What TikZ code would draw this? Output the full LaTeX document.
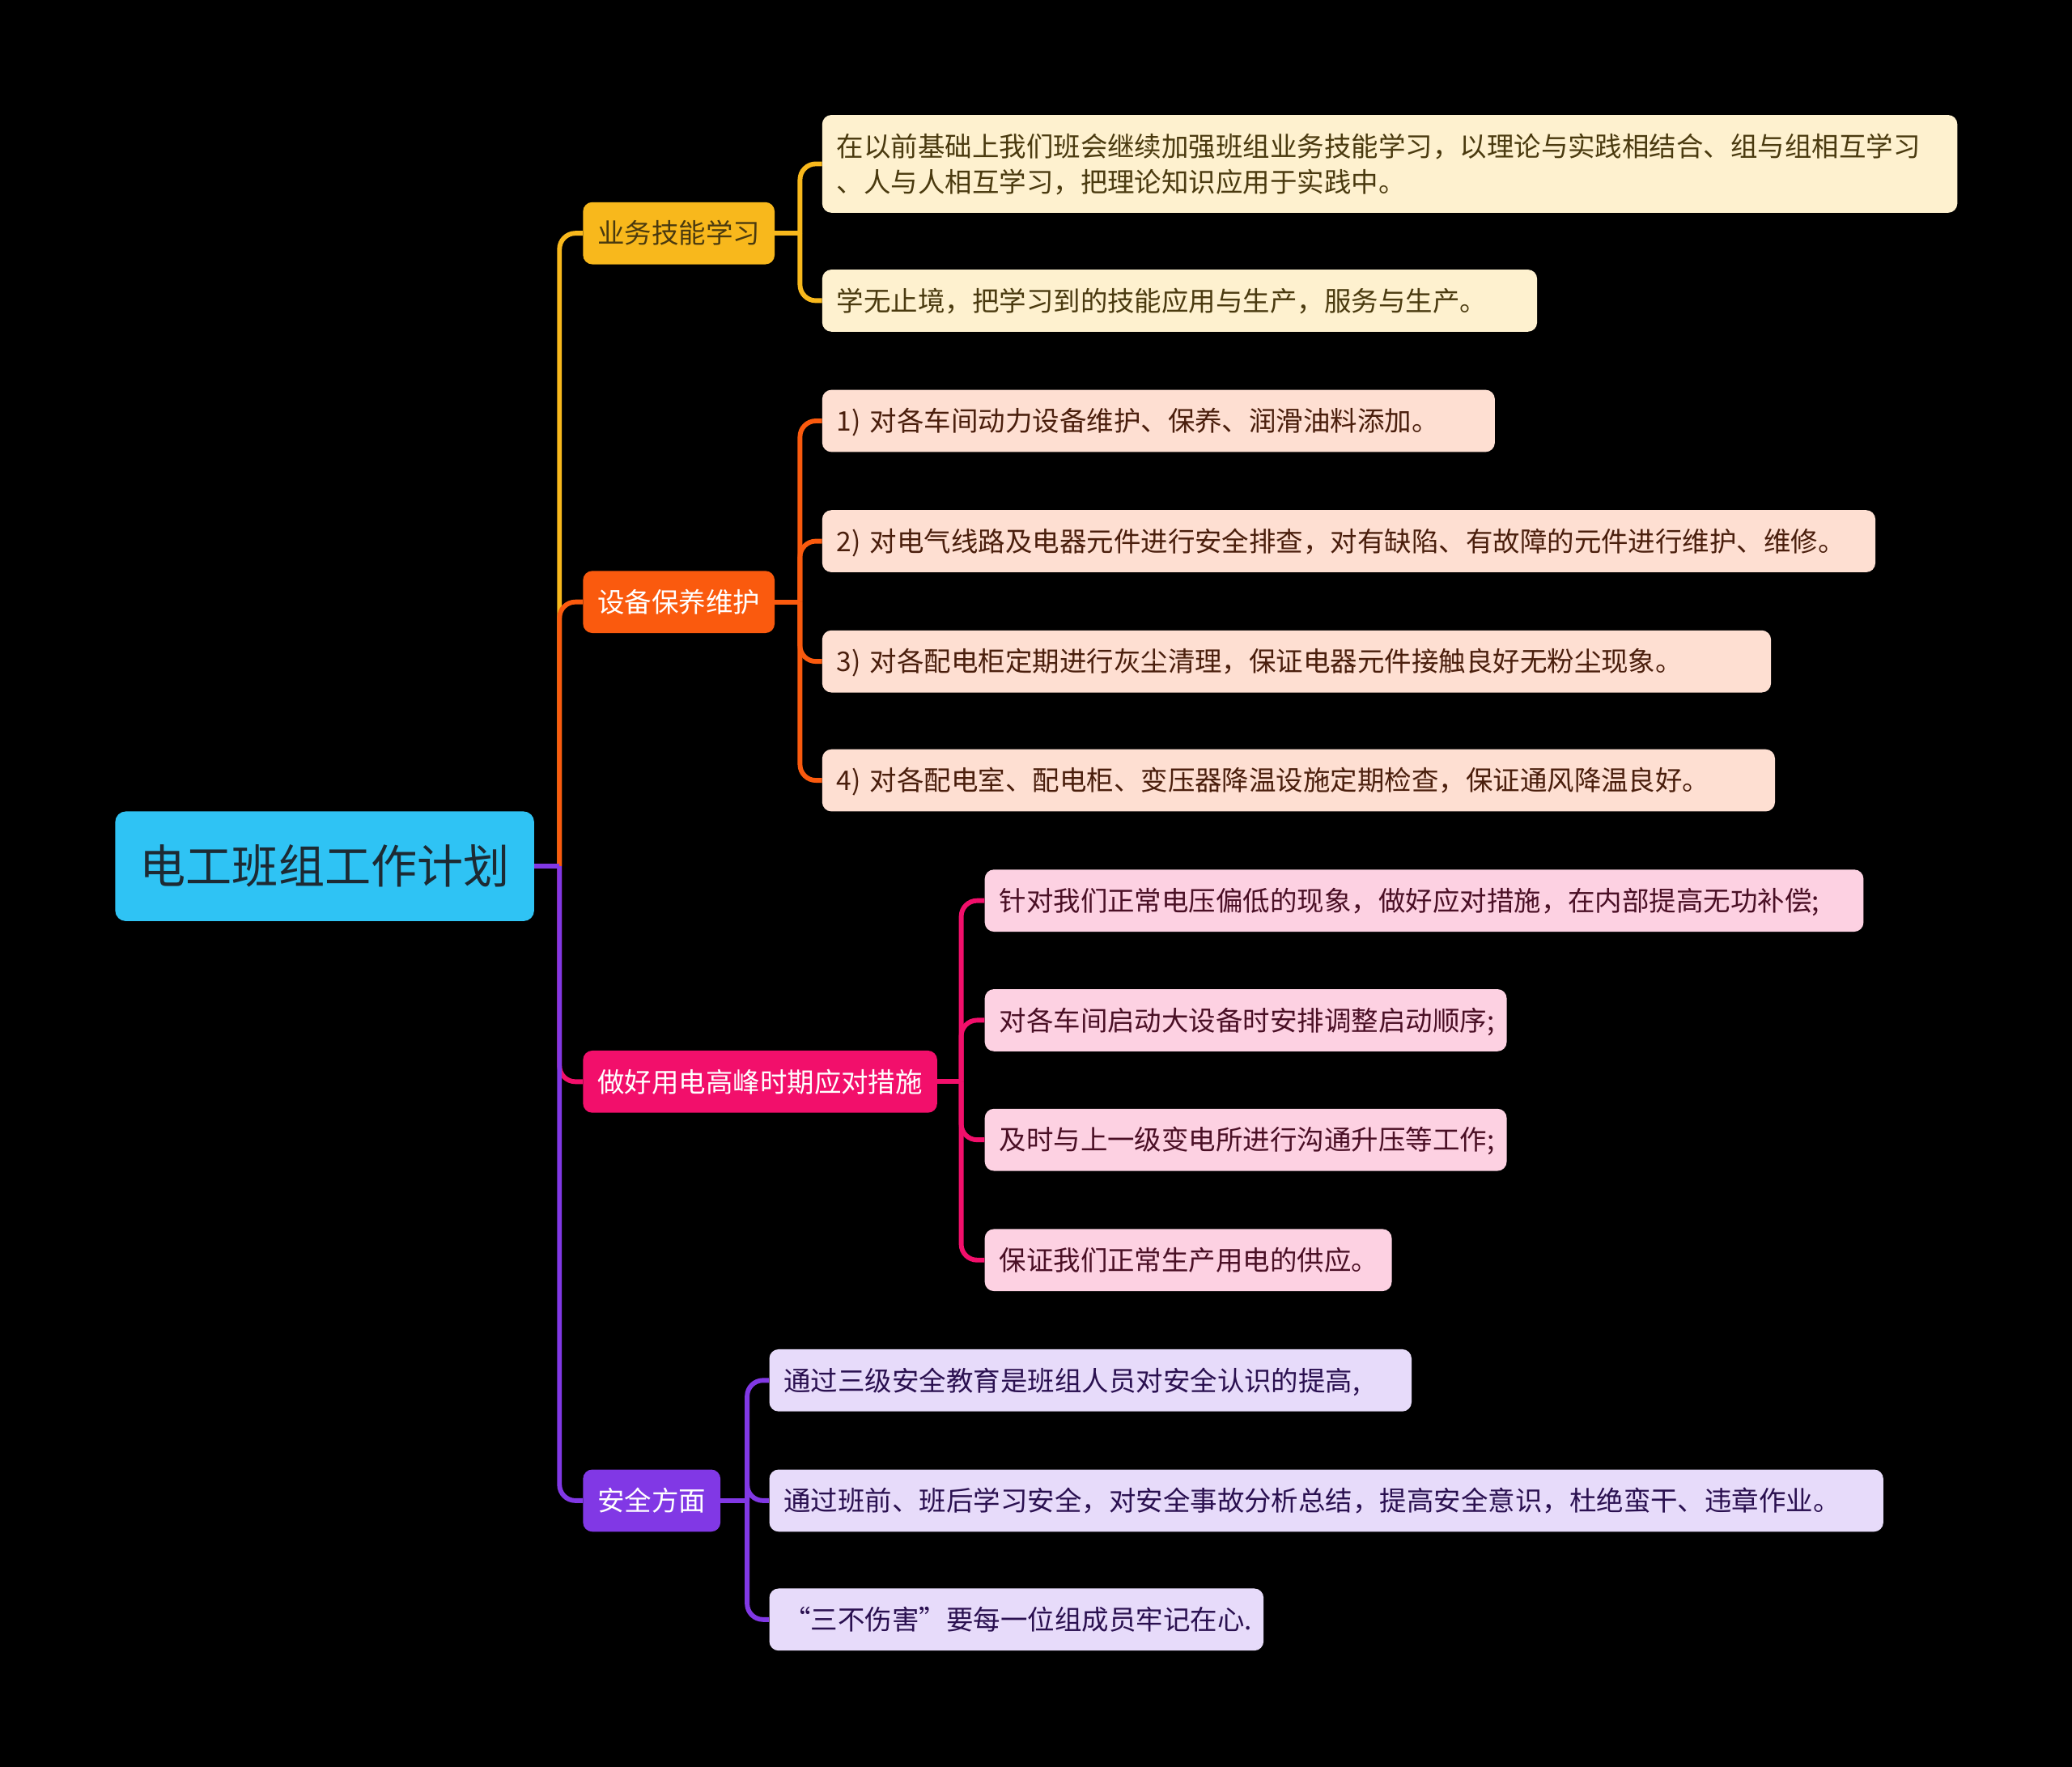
\documentclass[tikz,border=0pt]{standalone}
\usepackage{fontspec}
\setmainfont{Noto Sans CJK SC}
\usepackage{tikz}
\usetikzlibrary{calc}
\usepackage{xcolor}
\definecolor{PlanRoot}{HTML}{2FC3F4}
\definecolor{PlanRootText}{HTML}{1D2A33}
\definecolor{PlanYellow}{HTML}{F8B81C}
\definecolor{PlanYellowLight}{HTML}{FEF1CF}
\definecolor{PlanYellowText}{HTML}{4A3A0F}
\definecolor{PlanOrange}{HTML}{FA5A0E}
\definecolor{PlanOrangeLight}{HTML}{FEDFD2}
\definecolor{PlanOrangeText}{HTML}{4A1E0C}
\definecolor{PlanPink}{HTML}{F20F6B}
\definecolor{PlanPinkLight}{HTML}{FDD1E2}
\definecolor{PlanPinkText}{HTML}{4A0F25}
\definecolor{PlanPurple}{HTML}{8138E5}
\definecolor{PlanPurpleLight}{HTML}{E7DBFA}
\definecolor{PlanPurpleText}{HTML}{2A1050}

\begin{document}
\begin{tikzpicture}[
  x=1pt,y=-1pt,font=\fontsize{20.5}{27}\selectfont,
  link/.style={line width=3.6pt,rounded corners=12pt},
  root/.style={fill=PlanRoot,text=PlanRootText,rounded corners=8pt,
    minimum height=83pt,inner xsep=18.5pt,inner ysep=0pt,anchor=west,
    text height=28.6pt,text depth=2pt,font=\fontsize{35}{40}\selectfont},
  topic/.style={rounded corners=7pt,minimum height=47pt,inner xsep=11pt,
    inner ysep=0pt,anchor=west,text height=17.6pt,text depth=2pt},
  leaf/.style={rounded corners=7pt,minimum height=47pt,inner xsep=11pt,
    inner ysep=0pt,anchor=west,align=left,text width=#1,
    text height=17.6pt,text depth=2pt}
]

% black canvas, same proportions as the mind map
\fill[black] (0,0) rectangle (1568,1337);
\useasboundingbox (0,0) rectangle (1568,1337);

\node[root] (plan) at (87,655.5) {电工班组工作计划};

\node[topic,fill=PlanYellow,text=PlanYellowText] (study) at (441,176.5) {业务技能学习};
\node[topic,fill=PlanOrange,text=white] (equip) at (441,455.5) {设备保养维护};
\node[topic,fill=PlanPink,text=white] (peak) at (441,818.5) {做好用电高峰时期应对措施};
\node[topic,fill=PlanPurple,text=white] (safety) at (441,1135.5) {安全方面};

\node[leaf=837pt,fill=PlanYellowLight,text=PlanYellowText,minimum height=74pt,
  text depth=29pt]
  (study1) at (622,124)
  {在以前基础上我们班会继续加强班组业务技能学习，以理论与实践相结合、组与组相互学习\\
   、人与人相互学习，把理论知识应用于实践中。};
\node[leaf=519pt,fill=PlanYellowLight,text=PlanYellowText] (study2) at (622,227.5)
  {学无止境，把学习到的技能应用与生产，服务与生产。};

\node[leaf=487pt,fill=PlanOrangeLight,text=PlanOrangeText] (equip1) at (622,318.5)
  {1) 对各车间动力设备维护、保养、润滑油料添加。};
\node[leaf=775pt,fill=PlanOrangeLight,text=PlanOrangeText] (equip2) at (622,409.5)
  {2) 对电气线路及电器元件进行安全排查，对有缺陷、有故障的元件进行维护、维修。};
\node[leaf=696pt,fill=PlanOrangeLight,text=PlanOrangeText] (equip3) at (622,500.5)
  {3) 对各配电柜定期进行灰尘清理，保证电器元件接触良好无粉尘现象。};
\node[leaf=699pt,fill=PlanOrangeLight,text=PlanOrangeText] (equip4) at (622,590.5)
  {4) 对各配电室、配电柜、变压器降温设施定期检查，保证通风降温良好。};

\node[leaf=643pt,fill=PlanPinkLight,text=PlanPinkText] (peak1) at (745,681.5)
  {针对我们正常电压偏低的现象，做好应对措施，在内部提高无功补偿;};
\node[leaf=373pt,fill=PlanPinkLight,text=PlanPinkText] (peak2) at (745,772)
  {对各车间启动大设备时安排调整启动顺序;};
\node[leaf=373pt,fill=PlanPinkLight,text=PlanPinkText] (peak3) at (745,862.5)
  {及时与上一级变电所进行沟通升压等工作;};
\node[leaf=286pt,fill=PlanPinkLight,text=PlanPinkText] (peak4) at (745,953.5)
  {保证我们正常生产用电的供应。};

\node[leaf=464pt,fill=PlanPurpleLight,text=PlanPurpleText] (safety1) at (582,1044.5)
  {通过三级安全教育是班组人员对安全认识的提高,};
\node[leaf=821pt,fill=PlanPurpleLight,text=PlanPurpleText] (safety2) at (582,1135.5)
  {通过班前、班后学习安全，对安全事故分析总结，提高安全意识，杜绝蛮干、违章作业。};
\node[leaf=352pt,fill=PlanPurpleLight,text=PlanPurpleText] (safety3) at (582,1225.5)
  {“三不伤害”要每一位组成员牢记在心.};

% joints where the branch lines split
\coordinate (planjoint) at ($(plan.east)+(19,0)$);
\coordinate (studyjoint) at ($(study.east)+(19,0)$);
\coordinate (equipjoint) at ($(equip.east)+(19,0)$);
\coordinate (peakjoint) at ($(peak.east)+(18,0)$);
\coordinate (safetyjoint) at ($(safety.east)+(20,0)$);

\draw[link,draw=PlanYellow] (planjoint) |- (study.west);
\draw[link,draw=PlanOrange] (planjoint) |- (equip.west);
\draw[link,draw=PlanPink] (planjoint) |- (peak.west);
\draw[link,draw=PlanPurple] (planjoint) |- (safety.west);
\draw[link,draw=PlanPurple,rounded corners=0pt] (plan.east) -- (planjoint);

\draw[link,draw=PlanYellow,rounded corners=0pt] (study.east) -- (studyjoint);
\draw[link,draw=PlanYellow] (studyjoint) |- (study1.west);
\draw[link,draw=PlanYellow] (studyjoint) |- (study2.west);

\draw[link,draw=PlanOrange,rounded corners=0pt] (equip.east) -- (equipjoint);
\draw[link,draw=PlanOrange] (equipjoint) |- (equip1.west);
\draw[link,draw=PlanOrange] (equipjoint) |- (equip2.west);
\draw[link,draw=PlanOrange] (equipjoint) |- (equip3.west);
\draw[link,draw=PlanOrange] (equipjoint) |- (equip4.west);

\draw[link,draw=PlanPink,rounded corners=0pt] (peak.east) -- (peakjoint);
\draw[link,draw=PlanPink] (peakjoint) |- (peak1.west);
\draw[link,draw=PlanPink] (peakjoint) |- (peak2.west);
\draw[link,draw=PlanPink] (peakjoint) |- (peak3.west);
\draw[link,draw=PlanPink] (peakjoint) |- (peak4.west);

\draw[link,draw=PlanPurple,rounded corners=0pt] (safety.east) -- (safetyjoint);
\draw[link,draw=PlanPurple] (safetyjoint) |- (safety1.west);
\draw[link,draw=PlanPurple] (safetyjoint) |- (safety2.west);
\draw[link,draw=PlanPurple] (safetyjoint) |- (safety3.west);

\end{tikzpicture}
\end{document}
